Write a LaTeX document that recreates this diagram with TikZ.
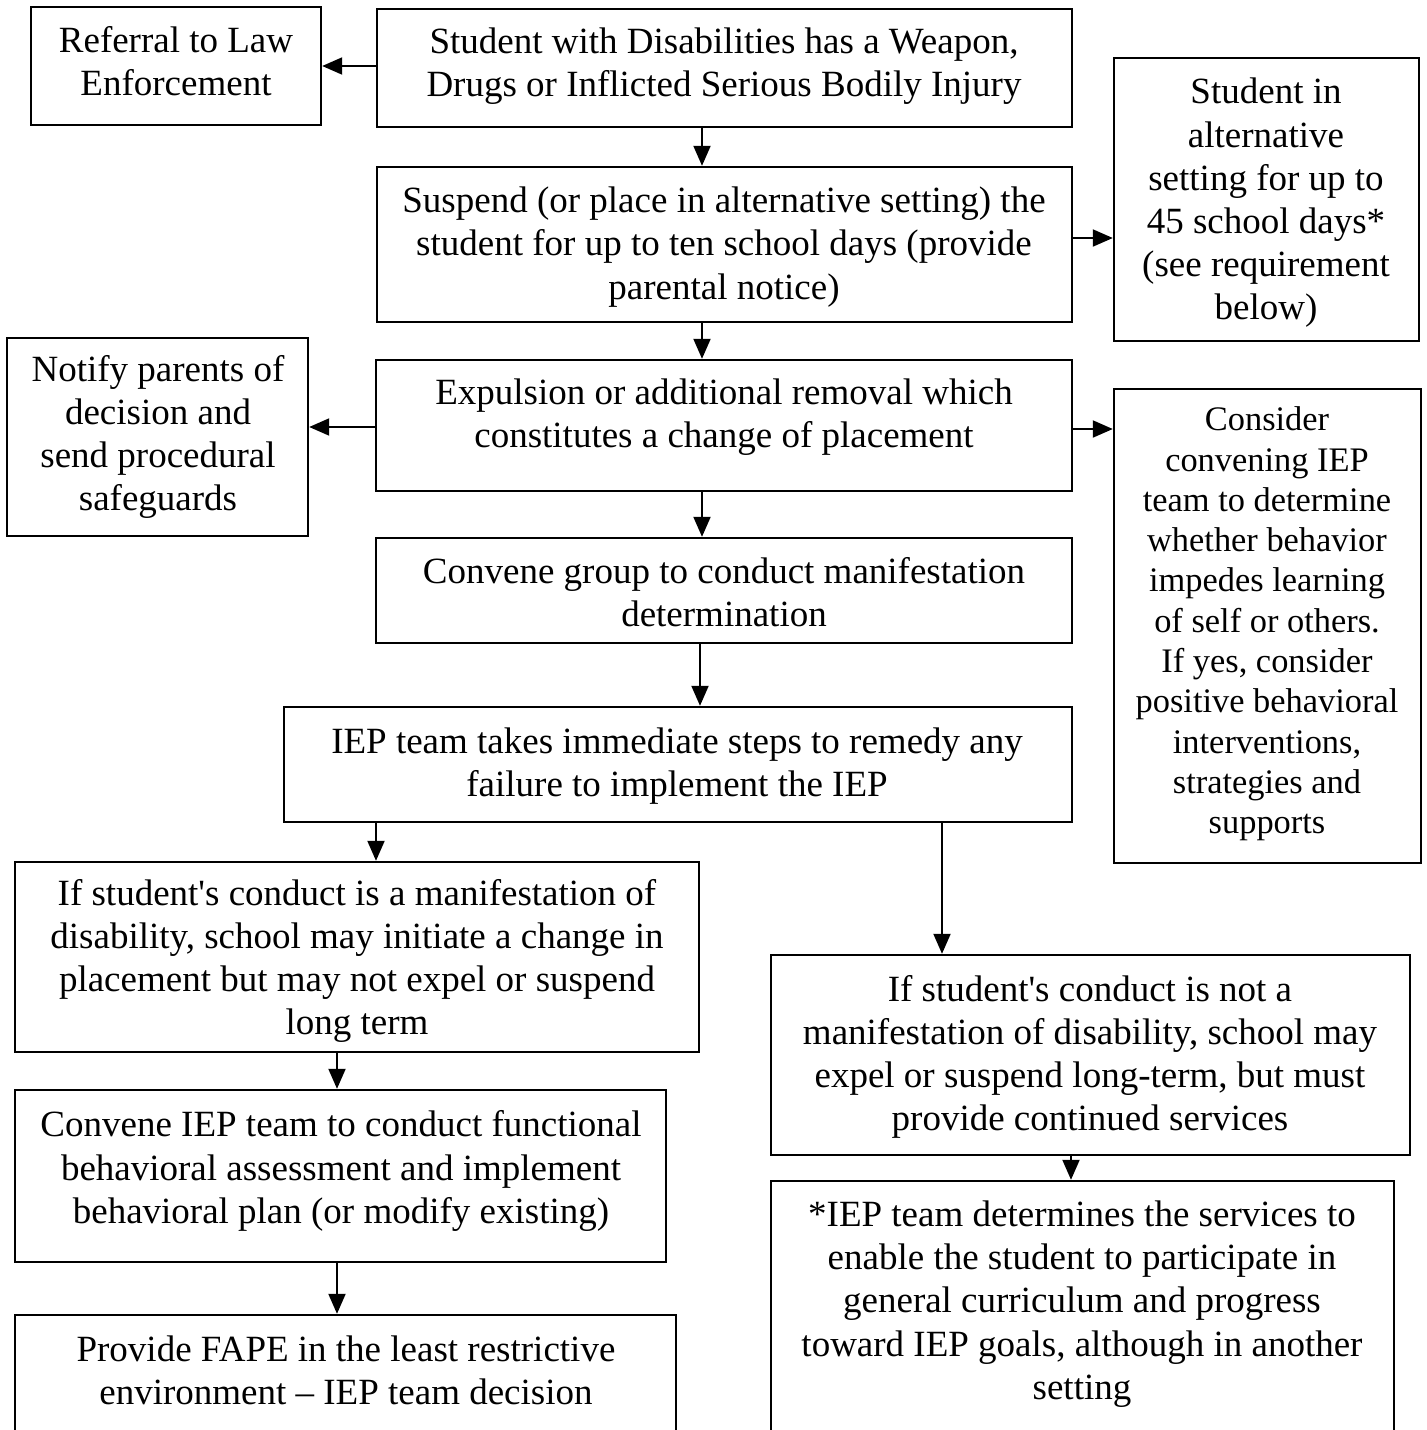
\documentclass[tikz,border=0pt]{standalone}
\usepackage{fontspec}
\setmainfont{Liberation Serif}[Ligatures=TeXOff]
\usetikzlibrary{arrows.meta,fit}

\tikzset{
  box/.style={draw=black, line width=1.2pt, inner sep=0pt, fill=none},
  txt/.style={align=center, inner sep=0pt, font=\fontsize{18.5}{21.6}\selectfont},
  smalltxt/.style={align=center, inner sep=0pt, font=\fontsize{17.2}{20.15}\selectfont},
  arr/.style={line width=1pt, -{Triangle[length=10pt,width=8.5pt]}, shorten >=0pt}
}

\begin{document}
\begin{tikzpicture}[x=0.5pt, y=-0.5pt]
\useasboundingbox (0,0) rectangle (1427,1430);
\clip (0,0) rectangle (1427,1430);
\fill[white] (0,0) rectangle (1427,1430);

% boxes (corner coordinates)
\node[box, fit={(31,7) (321,125)}]      (law)     {};
\node[box, fit={(377,9) (1072,127)}]    (weapon)  {};
\node[box, fit={(377,167) (1072,322)}]  (suspend) {};
\node[box, fit={(1114,58) (1419,341)}]  (alt)     {};
\node[box, fit={(7,338) (308,536)}]     (notify)  {};
\node[box, fit={(376,360) (1072,491)}]  (expel)   {};
\node[box, fit={(1114,389) (1421,863)}] (consider){};
\node[box, fit={(376,538) (1072,643)}]  (group)   {};
\node[box, fit={(284,707) (1072,822)}]  (remedy)  {};
\node[box, fit={(15,862) (699,1052)}]   (manif)   {};
\node[box, fit={(771,955) (1410,1155)}] (notmanif){};
\node[box, fit={(15,1090) (666,1262)}]  (fba)     {};
\node[box, fit={(15,1315) (676,1460)}]  (fape)    {};
\node[box, fit={(771,1181) (1394,1460)}](services){};

% texts
\node[txt] (t-law) at (176,61) {Referral to Law\\Enforcement};
\node[txt] (t-weapon) at (724,66) {Student with Disabilities has a Weapon,\\Drugs or Inflicted Serious Bodily Injury};
\node[txt] (t-suspend) at (724,247) {Suspend (or place in alternative setting) the\\student for up to ten school days (provide\\parental notice)};
\node[txt] (t-alt) at (1266,203) {Student in\\alternative\\setting for up to\\45 school days*\\(see requirement\\below)};
\node[txt] (t-notify) at (158,437) {Notify parents of\\decision and\\send procedural\\safeguards};
\node[txt] (t-expel) at (724,417) {Expulsion or additional removal which\\constitutes a change of placement};
\node[smalltxt] (t-consider) at (1267,624) {Consider\\convening IEP\\team to determine\\whether behavior\\impedes learning\\of self or others.\\If yes, consider\\positive behavioral\\interventions,\\strategies and\\supports};
\node[txt] (t-group) at (724,592) {Convene group to conduct manifestation\\determination};
\node[txt] (t-remedy) at (677,766) {IEP team takes immediate steps to remedy any\\failure to implement the IEP};
\node[txt] (t-manif) at (357,961) {If student's conduct is a manifestation of\\disability, school may initiate a change in\\placement but may not expel or suspend\\long term};
\node[txt] (t-notmanif) at (1090,1057) {If student's conduct is not a\\manifestation of disability, school may\\expel or suspend long-term, but must\\provide continued services};
\node[txt] (t-fba) at (341,1171) {Convene IEP team to conduct functional\\behavioral assessment and implement\\behavioral plan (or modify existing)};
\node[txt] (t-fape) at (346,1370) {Provide FAPE in the least restrictive\\environment – IEP team decision};
\node[txt] (t-services) at (1082,1304) {*IEP team determines the services to\\enable the student to participate in\\general curriculum and progress\\toward IEP goals, although in another\\setting};

% connectors
\draw[arr] (weapon.west |- 0,66) -- (law.east |- 0,66);
\draw[arr] (702,0 |- weapon.south) -- (702,0 |- suspend.north);
\draw[arr] (suspend.east |- 0,238) -- (alt.west |- 0,238);
\draw[arr] (702,0 |- suspend.south) -- (702,0 |- expel.north);
\draw[arr] (expel.west |- 0,427) -- (notify.east |- 0,427);
\draw[arr] (expel.east |- 0,429) -- (consider.west |- 0,429);
\draw[arr] (702,0 |- expel.south) -- (702,0 |- group.north);
\draw[arr] (700,0 |- group.south) -- (700,0 |- remedy.north);
\draw[arr] (376,0 |- remedy.south) -- (376,0 |- manif.north);
\draw[arr] (942,0 |- remedy.south) -- (942,0 |- notmanif.north);
\draw[arr] (337,0 |- manif.south) -- (337,0 |- fba.north);
\draw[arr] (337,0 |- fba.south) -- (337,0 |- fape.north);
\draw[arr] (1071,0 |- notmanif.south) -- (1071,0 |- services.north);
\end{tikzpicture}
\end{document}
